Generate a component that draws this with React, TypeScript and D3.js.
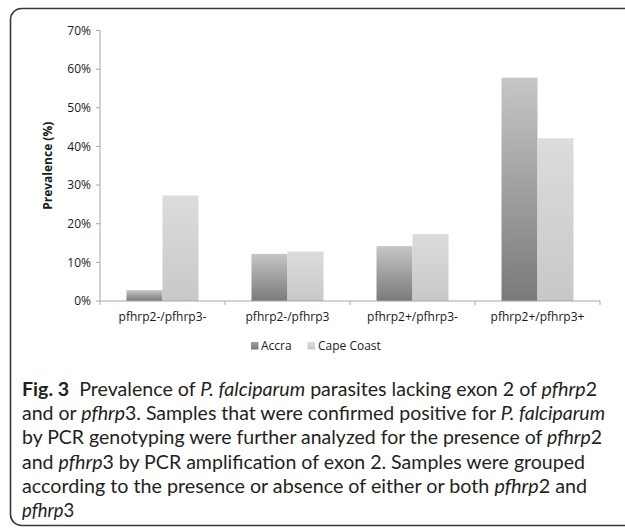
import React from "react";
import * as d3 from "d3";

const categories = ["pfhrp2-/pfhrp3-", "pfhrp2-/pfhrp3", "pfhrp2+/pfhrp3-", "pfhrp2+/pfhrp3+"];
const seriesNames = ["Accra", "Cape Coast"];
const accraValues = [2.8, 12.2, 14.2, 57.8];
const capeCoastValues = [27.3, 12.8, 17.3, 42.1];
const yTicks = [0, 10, 20, 30, 40, 50, 60, 70];
const yAxisTitle = "Prevalence (%)";

type Seg = { t: string; i?: boolean; b?: boolean };
const captionLines: { segs: Seg[]; end: number | null }[] = [
  { segs: [{ t: "Fig. 3", b: true }, { t: "\u00a0 Prevalence of " }, { t: "P. falciparum", i: true }, { t: " parasites lacking exon 2 of " }, { t: "pfhrp", i: true }, { t: "2" }], end: 597 },
  { segs: [{ t: "and or " }, { t: "pfhrp", i: true }, { t: "3. Samples that were confirmed positive for " }, { t: "P. falciparum", i: true }], end: 605 },
  { segs: [{ t: "by PCR genotyping were further analyzed for the presence of " }, { t: "pfhrp", i: true }, { t: "2" }], end: 602 },
  { segs: [{ t: "and " }, { t: "pfhrp", i: true }, { t: "3 by PCR amplification of exon 2. Samples were grouped" }], end: 585 },
  { segs: [{ t: "according to the presence or absence of either or both " }, { t: "pfhrp", i: true }, { t: "2 and" }], end: 587 },
  { segs: [{ t: "pfhrp", i: true }, { t: "3" }], end: null },
];

export default function App() {
  const W = 625, H = 528;
  const x0 = 100, x1 = 600, yTop = 30.5, yBot = 301;
  const x = d3.scaleBand<string>().domain(categories).range([x0, x1]).paddingInner(0.424).paddingOuter(0.212);
  const xs = d3.scaleBand<string>().domain(seriesNames).range([0, x.bandwidth()]);
  const xb = d3.scaleBand<string>().domain(categories).range([x0, x1]).padding(0);
  const y = d3.scaleLinear().domain([0, 70]).range([yBot, yTop]);
  const data = [accraValues, capeCoastValues];
  const fills = ["url(#gA)", "url(#gC)"];
  const boundaries = [...categories.map((c) => xb(c) as number), x1];
  const chartFont = "'Open Sans', sans-serif";
  const capFont = "Lato, sans-serif";
  const capX = 22;
  const capBase = 396, capStep = 24.2;

  return (
    <div style={{ position: "absolute", left: 0, top: 0 }}>
      <svg width={W} height={H} style={{ display: "block", background: "#fff" }}>
        <defs>
          <linearGradient id="gA" x1="0" y1="0" x2="0" y2="1">
            <stop offset="0" stopColor="#c6c6c6" />
            <stop offset="1" stopColor="#7a7a7a" />
          </linearGradient>
          <linearGradient id="gC" x1="0" y1="0" x2="0" y2="1">
            <stop offset="0" stopColor="#dcdcdc" />
            <stop offset="1" stopColor="#c8c8c8" />
          </linearGradient>
          <linearGradient id="lA" x1="0" y1="0" x2="0" y2="1">
            <stop offset="0" stopColor="#a0a0a0" />
            <stop offset="1" stopColor="#7a7a7a" />
          </linearGradient>
          <linearGradient id="lC" x1="0" y1="0" x2="0" y2="1">
            <stop offset="0" stopColor="#dcdcdc" />
            <stop offset="1" stopColor="#c8c8c8" />
          </linearGradient>
        </defs>
        <rect x={10.5} y={8.5} width={700} height={517} rx={11} ry={11} fill="none" stroke="#3a3a3a" strokeWidth={1.6} />

        {/* bars */}
        {categories.map((c, ci) =>
          seriesNames.map((s, si) => {
            const v = data[si][ci];
            const bx = (x(c) as number) + (xs(s) as number);
            return (
              <rect key={c + s} x={bx} y={y(v)} width={xs.bandwidth()} height={yBot - y(v)} fill={fills[si]} />
            );
          })
        )}

        {/* y axis */}
        <line x1={x0} x2={x0} y1={yTop} y2={yBot} stroke="#a6a6a6" strokeWidth={1} />
        {yTicks.map((t) => (
          <g key={t}>
            <line x1={x0 - 4} x2={x0} y1={y(t)} y2={y(t)} stroke="#a6a6a6" />
            <text x={91} y={y(t) + 4.3} textAnchor="end" fontFamily={chartFont} fontSize={12} fill="#1a1a1a">
              {d3.format(".0%")(t / 100)}
            </text>
          </g>
        ))}
        <text transform={`translate(52,${(yTop + yBot) / 2}) rotate(-90)`} textAnchor="middle" fontFamily={chartFont} fontWeight="bold" fontSize={12} fill="#1a1a1a">
          {yAxisTitle}
        </text>

        {/* x axis */}
        <line x1={x0} x2={x1} y1={yBot} y2={yBot} stroke="#a6a6a6" />
        {boundaries.map((b, i) => (
          <line key={i} x1={b} x2={b} y1={yBot} y2={yBot + 4} stroke="#a6a6a6" />
        ))}
        {categories.map((c) => (
          <text key={c} x={(xb(c) as number) + xb.bandwidth() / 2} y={321} textAnchor="middle" fontFamily={chartFont} fontSize={12} fill="#1a1a1a">
            {c}
          </text>
        ))}

        {/* legend */}
        <rect x={251} y={342} width={7.5} height={7.5} fill="url(#lA)" />
        <text x={261} y={350} fontFamily={chartFont} fontSize={12} fill="#1a1a1a">{seriesNames[0]}</text>
        <rect x={307.5} y={342} width={7.5} height={7.5} fill="url(#lC)" />
        <text x={318} y={350} fontFamily={chartFont} fontSize={12} fill="#1a1a1a">{seriesNames[1]}</text>

        {/* caption */}
        {captionLines.map((ln, li) => (
          <text key={li} x={capX} y={capBase + li * capStep} fontFamily={capFont} fontSize={18.5} fill="#231f20"
            {...(ln.end !== null ? { textLength: ln.end - capX, lengthAdjust: "spacingAndGlyphs" } : {})}>
            {ln.segs.map((s, si) => (
              <tspan key={si} fontStyle={s.i ? "italic" : "normal"} fontWeight={s.b ? "bold" : "normal"}>
                {s.t}
              </tspan>
            ))}
          </text>
        ))}
      </svg>
    </div>
  );
}
